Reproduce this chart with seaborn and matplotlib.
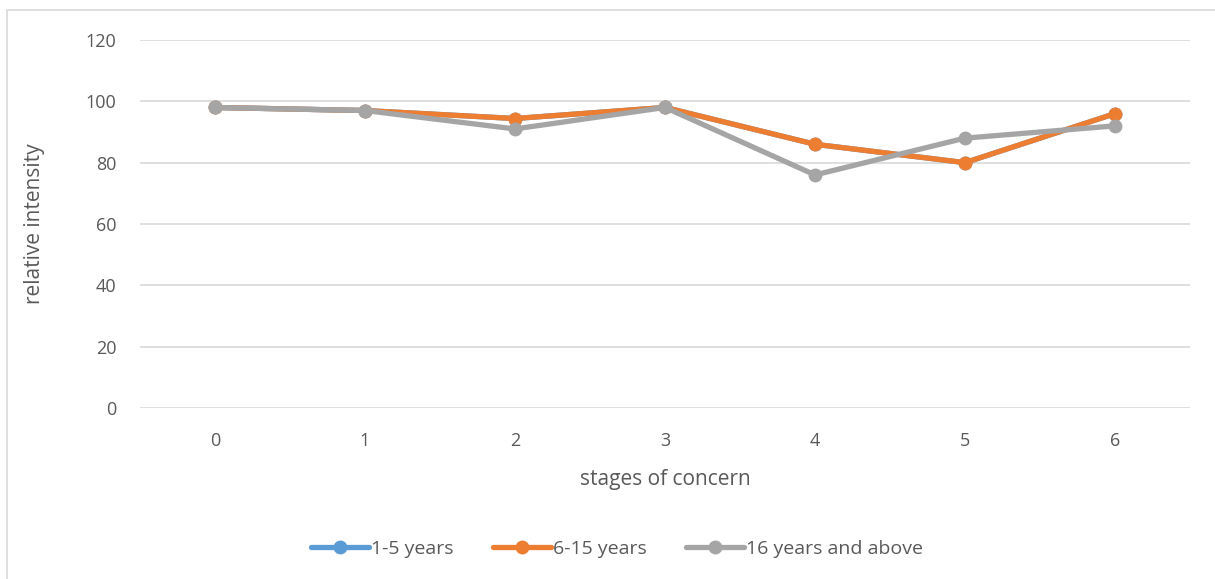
import matplotlib
matplotlib.use("Agg")
import matplotlib.pyplot as plt
import seaborn as sns
import pandas as pd
from matplotlib.patches import Rectangle
from matplotlib.lines import Line2D

stages = [0, 1, 2, 3, 4, 5, 6]
years_1_5 = [98, 97, 94.4, 98, 86, 80, 96]
years_6_15 = [98, 97, 94.4, 98, 86, 80, 96]
years_16_up = [98, 97, 91, 98, 76, 88, 92]
series_names = ["1-5 years", "6-15 years", "16 years and above"]
colors = ["#5B9BD5", "#ED7D31", "#A5A5A5"]
y_ticks = [0, 20, 40, 60, 80, 100, 120]

rows = []
for name, vals in zip(series_names, [years_1_5, years_6_15, years_16_up]):
    for s, v in zip(stages, vals):
        rows.append({"stage": s, "value": v, "series": name})
df = pd.DataFrame(rows)

sns.set_theme(style="white")
plt.rcParams['font.family'] = ['Open Sans', 'DejaVu Sans']
text_color = "#595959"

fig = plt.figure(figsize=(12.15, 5.79), dpi=100)
ax = fig.add_axes([140/1215, 1 - 408/579, 1050/1215, 368/579])

sns.lineplot(data=df, x="stage", y="value", hue="series", palette=colors,
             hue_order=series_names, marker="o", markersize=10, linewidth=3.8,
             markeredgewidth=0, ax=ax, legend=False)

ax.set_xlim(-0.5, 6.5)
ax.set_ylim(0, 120)
ax.set_yticks(y_ticks)
ax.set_xticks(stages)
ax.grid(axis="y", color="#D9D9D9", linewidth=1.2)
ax.set_axisbelow(True)
for sp in ax.spines.values():
    sp.set_visible(False)
ax.tick_params(axis="both", length=0, labelsize=13, labelcolor=text_color)
ax.tick_params(axis="y", pad=17)
ax.tick_params(axis="x", pad=17)
ax.set_xlabel("stages of concern", fontsize=15, color=text_color, labelpad=14)
ax.set_ylabel("relative intensity", fontsize=15, color=text_color, labelpad=29)

handles = [Line2D([0], [0], color=c, lw=3.8, marker="o", markersize=10, markeredgewidth=0)
           for c in colors]
leg = fig.legend(handles, series_names, loc="center", bbox_to_anchor=(617/1215, 1 - 549/579),
                 ncol=3, frameon=False, fontsize=14, handlelength=3.0, handletextpad=0.1,
                 columnspacing=2.0)
for t in leg.get_texts():
    t.set_color(text_color)

fig.add_artist(Rectangle((7/1215, -0.1), 1.2, 1 - 10/579 + 0.1, transform=fig.transFigure,
                         fill=False, edgecolor="#D9D9D9", linewidth=1.2))

fig.savefig("out.png", dpi=100)
